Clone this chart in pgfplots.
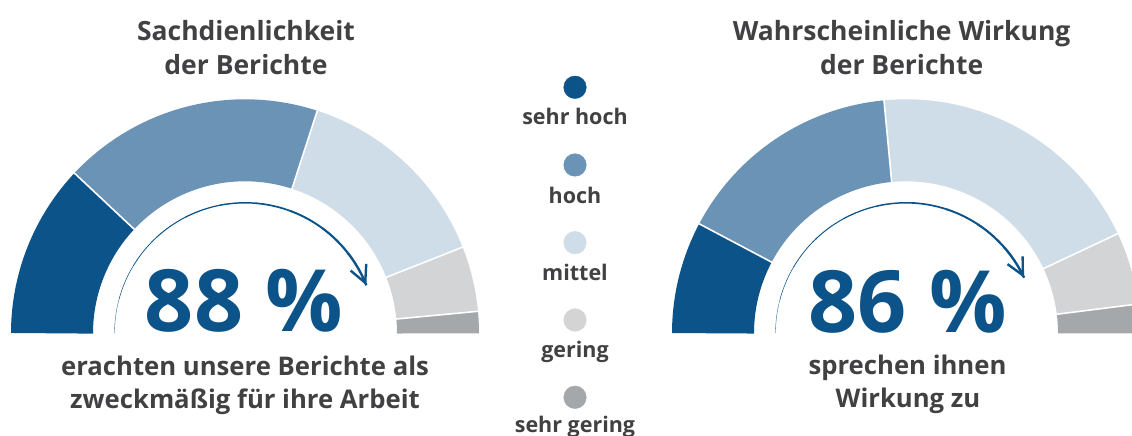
\documentclass[border=0pt]{standalone}
\usepackage{pgfplots}
\pgfplotsset{compat=1.18}
\usepackage{fontspec}
\setmainfont{Open Sans}
\usetikzlibrary{arrows.meta}
\definecolor{c1}{HTML}{0B5388}
\definecolor{c2}{HTML}{6B93B6}
\definecolor{c3}{HTML}{CFDDE8}
\definecolor{c4}{HTML}{D3D4D6}
\definecolor{c5}{HTML}{A5A8AB}
\definecolor{txt}{HTML}{414042}

\def\cy{102.7}
% ring segment: centre x, from %, to %, colour
\newcommand{\seg}[4]{%
  \pgfmathsetmacro\angA{180-1.8*#3}%
  \pgfmathsetmacro\angB{180-1.8*#2}%
  \edef\doseg{\noexpand\addplot[draw=#4, line width=82pt, line cap=butt, domain=\angA:\angB, samples=100, variable=\noexpand\t, forget plot]
   ({#1+193*cos(\noexpand\t)},{\cy+193*sin(\noexpand\t)});}%
  \doseg}
% white separator at a cumulative %
\newcommand{\sep}[2]{%
  \pgfmathsetmacro\angS{180-1.8*#2}%
  \pgfmathsetmacro\xa{#1+150*cos(\angS)}\pgfmathsetmacro\ya{\cy+150*sin(\angS)}%
  \pgfmathsetmacro\xb{#1+238*cos(\angS)}\pgfmathsetmacro\yb{\cy+238*sin(\angS)}%
  \edef\dosep{\noexpand\addplot[draw=white, line width=1.6pt, forget plot] coordinates {(\xa,\ya) (\xb,\yb)};}%
  \dosep}
% tapered arrow arc up to a %
\newcommand{\arrowarc}[2]{%
  \pgfmathsetmacro\angE{180-1.8*#2}%
  \pgfplotsforeachungrouped \k in {0,...,9}{%
    \pgfmathsetmacro\aA{min(180,180-(180-\angE)*\k/10+0.4)}%
    \pgfmathsetmacro\aB{180-(180-\angE)*(\k+1)/10}%
    \pgfmathsetmacro\lw{0.3+2.1*\k/9}%
    \edef\doarc{\noexpand\addplot[draw=c1, line width=\lw pt, domain=\aB:\aA, samples=12, variable=\noexpand\t, forget plot]
      ({#1+130.5*cos(\noexpand\t)},{\cy+130.5*sin(\noexpand\t)});}%
    \doarc}%
  \pgfmathsetmacro\xa{#1+130.5*cos(\angE+4)}\pgfmathsetmacro\ya{\cy+130.5*sin(\angE+4)}%
  \pgfmathsetmacro\xb{#1+130.5*cos(\angE)}\pgfmathsetmacro\yb{\cy+130.5*sin(\angE)}%
  \edef\doarr{\noexpand\addplot[draw=c1, line width=2.4pt, -{Straight Barb[length=17pt, width=17pt, line width=2.4pt]}, forget plot] coordinates {(\xa,\ya) (\xb,\yb)};}%
  \doarr}

\newcommand\TitleFont{\fontsize{26.5}{32}\selectfont\bfseries\color{txt}}
\newcommand\SubFont{\fontsize{25.7}{31}\selectfont\bfseries\color{txt}}
\newcommand\BigFont{\fontsize{86}{90}\selectfont\bfseries\color{c1}}
\newcommand\LegFont{\fontsize{21.5}{25}\selectfont\bfseries\color{txt}}

\begin{document}
\begin{tikzpicture}
\useasboundingbox (0,0) rectangle (1132pt,436pt);
\clip (0,0) rectangle (1132pt,436pt);
\begin{axis}[at={(0pt,0pt)}, anchor=south west, scale only axis,
  width=1132pt, height=436pt, xmin=0, xmax=1132, ymin=0, ymax=436,
  hide axis, clip=false]
% ---- left gauge: Sachdienlichkeit (24, 36, 28, 9, 3 %)
\seg{245}{0}{24}{c1}
\seg{245}{24}{60}{c2}
\seg{245}{60}{88}{c3}
\seg{245}{88}{97}{c4}
\seg{245}{97}{100}{c5}
\sep{245}{24}\sep{245}{60}\sep{245}{88}\sep{245}{97}
\arrowarc{245}{88}
% ---- right gauge: Wirkung (15.5, 31.5, 39, 10, 4 %)
\seg{906}{0}{15.5}{c1}
\seg{906}{15.5}{47}{c2}
\seg{906}{47}{86}{c3}
\seg{906}{86}{96}{c4}
\seg{906}{96}{100}{c5}
\sep{906}{15.5}\sep{906}{47}\sep{906}{86}\sep{906}{96}
\arrowarc{906}{86}
% ---- legend dots
\addplot[only marks, mark=*, mark size=11.3pt, color=c1] coordinates {(575,348.7)};
\addplot[only marks, mark=*, mark size=11.3pt, color=c2] coordinates {(575,271)};
\addplot[only marks, mark=*, mark size=11.3pt, color=c3] coordinates {(575,193.3)};
\addplot[only marks, mark=*, mark size=11.3pt, color=c4] coordinates {(575,116)};
\addplot[only marks, mark=*, mark size=11.3pt, color=c5] coordinates {(575,38.7)};
% ---- texts
\node[anchor=base, inner sep=0] at (axis cs:246,395.3) {\TitleFont Sachdienlichkeit};
\node[anchor=base, inner sep=0] at (axis cs:246,361) {\TitleFont der Berichte};
\node[anchor=base, inner sep=0] at (axis cs:901.7,395.3) {\TitleFont Wahrscheinliche Wirkung};
\node[anchor=base, inner sep=0] at (axis cs:901.7,361) {\TitleFont der Berichte};
\node[anchor=base, inner sep=0] at (axis cs:244,104.6) {\BigFont 88\hspace{0.26em}\%};
\node[anchor=base, inner sep=0] at (axis cs:907.7,103.6) {\BigFont 86\hspace{0.26em}\%};
\node[anchor=base, inner sep=0] at (axis cs:245,60) {\SubFont erachten unsere Berichte als};
\node[anchor=base, inner sep=0] at (axis cs:245,27.7) {\SubFont zweckmäßig für ihre Arbeit};
\node[anchor=base, inner sep=0] at (axis cs:907.5,61) {\SubFont sprechen ihnen};
\node[anchor=base, inner sep=0] at (axis cs:908,28) {\SubFont Wirkung zu};
\node[anchor=base, inner sep=0] at (axis cs:575,311) {\LegFont sehr hoch};
\node[anchor=base, inner sep=0] at (axis cs:575,232) {\LegFont hoch};
\node[anchor=base, inner sep=0] at (axis cs:575,155) {\LegFont mittel};
\node[anchor=base, inner sep=0] at (axis cs:575,78.3) {\LegFont gering};
\node[anchor=base, inner sep=0] at (axis cs:575,3) {\LegFont sehr gering};
\end{axis}
\end{tikzpicture}
\end{document}
